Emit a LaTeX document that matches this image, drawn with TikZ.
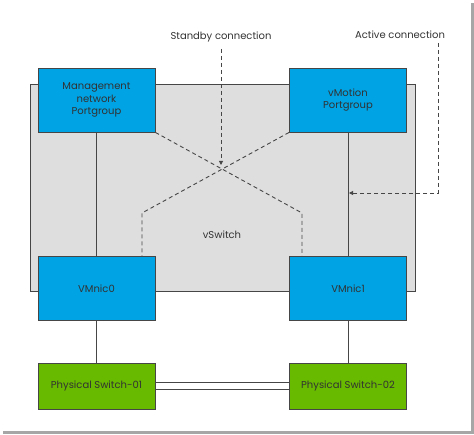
\documentclass[tikz,border=0pt]{standalone}
\usepackage{fontspec}
\setmainfont{Poppins}
\usetikzlibrary{arrows.meta}
\definecolor{vblue}{RGB}{0,163,228}
\definecolor{vgreen}{RGB}{104,186,0}
\definecolor{vgray}{RGB}{222,222,222}
\definecolor{vtext}{RGB}{50,50,50}
\definecolor{vline}{RGB}{70,70,70}
\begin{document}
\begin{tikzpicture}[x=1pt,y=-1pt,
  font=\fontsize{10}{12.5}\selectfont, text=vtext,
  bluebox/.style={draw=vline, line width=0.9pt, fill=vblue, minimum width=117pt, minimum height=64pt, align=center, inner sep=0pt},
  greenbox/.style={draw=vline, line width=0.9pt, fill=vgreen, minimum width=117pt, minimum height=46pt, align=center, inner sep=0pt},
  solidlink/.style={draw=vline, line width=0.9pt},
  dashlink/.style={draw=vline, line width=0.9pt, dash pattern=on 4pt off 3pt},
  tip/.style={-{Triangle[length=4pt,width=4pt]}}]
\useasboundingbox (0,0) rectangle (474,435);
% shadow frame
\fill[gray!70] (3,431) rectangle (474,434);
\fill[gray!70] (471,3) rectangle (474,434);
% vSwitch
\node[draw=vline, line width=0.9pt, fill=vgray, minimum width=385pt, minimum height=207pt, inner sep=0pt, anchor=north west] (vs) at (30,84) {};
\node (vslabel) at (222,235) {vSwitch};
% boxes
\node[bluebox] (mg) at (96.5,100) {Management\\network\\Portgroup};
\node[bluebox] (vm) at (348,100) {vMotion\\Portgroup};
\node[bluebox] (n0) at (96.5,288.5) {VMnic0};
\node[bluebox] (n1) at (348,288.5) {VMnic1};
\node[greenbox] (p1) at (96.5,386) {Physical Switch-01};
\node[greenbox] (p2) at (348,386) {Physical Switch-02};
% solid links
\draw[solidlink] (mg) -- (n0);
\draw[solidlink] (vm) -- (n1);
\draw[solidlink] (n0) -- (p1);
\draw[solidlink] (n1) -- (p2);
\draw[solidlink] ([yshift=-3.5pt]p1.east) -- ([yshift=-3.5pt]p2.west);
\draw[solidlink] ([yshift=3.5pt]p1.east) -- ([yshift=3.5pt]p2.west);
% standby dashed cross
\coordinate (c1) at (302,213);
\coordinate (c2) at (142,213);
\draw[dashlink] (mg.south east) -- (c1) -- (c1 |- n1.north);
\draw[dashlink] (vm.south west) -- (c2) -- (c2 |- n0.north);
% labels
\node (sb) at (221,37) {Standby connection};
\node (ac) at (400,35) {Active connection};
\coordinate (sbtip) at (221,165);
\draw[dashlink, tip] (221,49) -- (sbtip);
\coordinate (acbend) at (438,193);
\coordinate (actip) at (349,193);
\draw[dashlink, tip] (438,43) -- (acbend) -- (actip);
\end{tikzpicture}
\end{document}
